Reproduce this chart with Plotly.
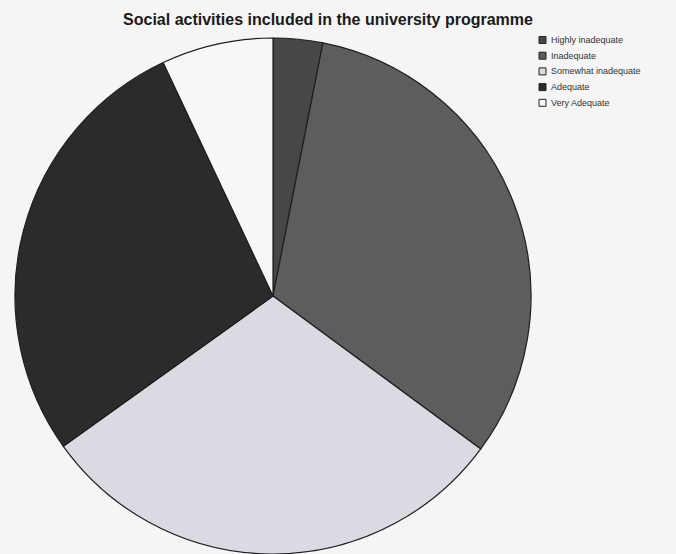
import plotly.graph_objects as go

labels = ["Highly inadequate", "Inadequate", "Somewhat inadequate", "Adequate", "Very Adequate"]
values = [3.1, 32.0, 30.0, 27.9, 7.0]
colors = ["#474747", "#5d5d5d", "#dadbe2", "#2b2b2b", "#f7f7f7"]

W, H = 676, 554
fig = go.Figure(go.Pie(
    labels=labels, values=values, sort=False, direction="clockwise", rotation=0,
    marker=dict(colors=colors, line=dict(color="#1e1e1e", width=1.2)),
    textinfo="none", hoverinfo="label+percent",
    domain=dict(x=[15 / W, 531 / W], y=[0, 516 / H]),
    showlegend=False,
))

# legend drawn as shapes + annotations built from the labels/colors lists
leg_x0, leg_y0, leg_dy, box = 539, 40, 15.7, 7
shapes, annos = [], []
for i, (lab, col) in enumerate(zip(labels, colors)):
    cy = leg_y0 + i * leg_dy
    shapes.append(dict(type="rect", xref="paper", yref="paper",
                       x0=leg_x0 / W, x1=(leg_x0 + box) / W,
                       y0=1 - (cy + box / 2) / H, y1=1 - (cy - box / 2) / H,
                       fillcolor=col, line=dict(color="#222", width=1)))
    annos.append(dict(text=lab, xref="paper", yref="paper", x=(leg_x0 + box + 3) / W,
                      y=1 - cy / H, xanchor="left", yanchor="middle", showarrow=False,
                      font=dict(family="Liberation Sans, Arial", size=9, color="#333")))

fig.update_layout(
    width=W, height=H,
    margin=dict(l=0, r=0, t=0, b=0),
    paper_bgcolor="#f5f5f5", plot_bgcolor="#f5f5f5",
    title=dict(text="<b>Social activities included in the university programme</b>",
               x=328 / W, xanchor="center", y=1 - 19 / H, yanchor="middle",
               font=dict(family="Liberation Sans, Arial", size=16, color="#1a1a1a")),
    shapes=shapes, annotations=annos,
)
fig.write_html("out.html", config={"displayModeBar": False},
               post_script="document.body.style.margin='0';document.body.style.overflow='hidden';")
